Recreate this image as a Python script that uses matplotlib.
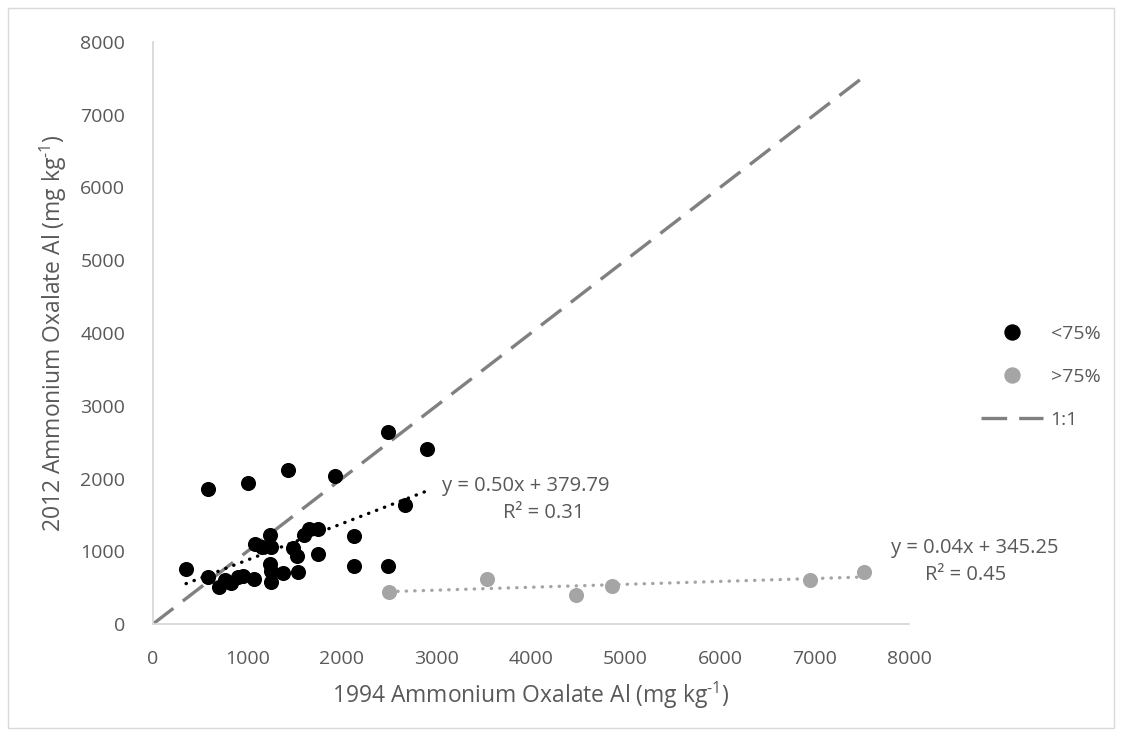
import matplotlib
matplotlib.use("Agg")
import matplotlib.pyplot as plt
from matplotlib.lines import Line2D
from matplotlib.patches import Rectangle
import numpy as np

plt.rcParams['font.family'] = ['Open Sans', 'DejaVu Sans']
plt.rcParams['mathtext.fontset'] = 'custom'
plt.rcParams['mathtext.rm'] = 'Open Sans'
plt.rcParams['mathtext.it'] = 'Open Sans'

# ---- data ----
low_x = [350, 580, 580, 700, 760, 830, 900, 950, 1010, 1070, 1080, 1150, 1240, 1250,
         1240, 1250, 1250, 1380, 1425, 1480, 1520, 1530, 1600, 1650, 1750, 1750, 1930,
         2130, 2130, 2490, 2490, 2670, 2900]
low_y = [760, 1860, 650, 510, 600, 560, 640, 660, 1940, 620, 1100, 1060, 1220, 1060,
         820, 730, 580, 700, 2110, 1050, 930, 720, 1230, 1310, 1310, 960, 2030,
         1210, 800, 2640, 800, 1630, 2400]
high_x = [2500, 3530, 4480, 4860, 6950, 7520]
high_y = [440, 620, 400, 520, 600, 720]

low_fit = (0.50, 379.79)     # slope, intercept
high_fit = (0.04, 345.25)
low_r2 = 0.31
high_r2 = 0.45

one_to_one = [0, 7530]

x_ticks = [0, 1000, 2000, 3000, 4000, 5000, 6000, 7000, 8000]
y_ticks = [0, 1000, 2000, 3000, 4000, 5000, 6000, 7000, 8000]

TXT = '#595959'

fig = plt.figure(figsize=(11.22, 7.36), dpi=100)
ax = fig.add_axes([153/1122, 1-624/736, (909-153)/1122, (624-42)/736])

# 1:1 line
ax.plot(one_to_one, one_to_one, color='#808080', lw=2.4, dashes=(7.7, 3.6),
        solid_capstyle='butt', dash_capstyle='butt', zorder=2)

# scatter
ax.scatter(low_x, low_y, s=118, color='black', zorder=3, linewidths=0)
ax.scatter(high_x, high_y, s=118, color='#A5A5A5', zorder=3, linewidths=0)

# trend lines
xl = np.array([min(low_x), max(low_x)])
ax.plot(xl, low_fit[0]*xl + low_fit[1], color='black', lw=2.4, linestyle=(0, (0.1, 2.45)),
        dash_capstyle='round', zorder=4)
xh = np.array([min(high_x), max(high_x)])
ax.plot(xh, high_fit[0]*xh + high_fit[1], color='#A5A5A5', lw=2.4, linestyle=(0, (0.1, 2.45)),
        dash_capstyle='round', zorder=2.5)

# equations
ax.text(3060, 1900, f"y = {low_fit[0]:.2f}x + {low_fit[1]:.2f}", color=TXT, fontsize=14.5,
        ha='left', va='center')
ax.text(4140, 1520, f"R² = {low_r2:.2f}", color=TXT, fontsize=14.5, ha='center', va='center')
ax.text(8700, 1045, f"y = {high_fit[0]:.2f}x + {high_fit[1]:.2f}", color=TXT, fontsize=14.5,
        ha='center', va='center', clip_on=False)
ax.text(8600, 670, f"R² = {high_r2:.2f}", color=TXT, fontsize=14.5, ha='center', va='center',
        clip_on=False)

ax.set_xlim(0, 8000)
ax.set_ylim(0, 8000)
ax.set_xticks(x_ticks)
ax.set_yticks(y_ticks)
ax.set_xticklabels([str(t) for t in x_ticks])
ax.set_yticklabels([str(t) for t in y_ticks])
ax.tick_params(length=0, labelsize=14, labelcolor=TXT)
ax.tick_params(axis='x', pad=19)
ax.tick_params(axis='y', pad=20)
for s in ['top', 'right']:
    ax.spines[s].set_visible(False)
for s in ['left', 'bottom']:
    ax.spines[s].set_color('#D9D9D9')
    ax.spines[s].set_linewidth(1.3)

ax.set_xlabel(r"1994 Ammonium Oxalate Al (mg kg$^{\text{-1}}$)", color=TXT, fontsize=16.5,
              labelpad=8)
ax.set_ylabel(r"2012 Ammonium Oxalate Al (mg kg$^{\text{-1}}$)", color=TXT, fontsize=16.5,
              labelpad=8)

handles = [
    Line2D([], [], marker='o', color='black', linestyle='none', markersize=10.8),
    Line2D([], [], marker='o', color='#A5A5A5', linestyle='none', markersize=10.8),
    Line2D([], [], color='#808080', lw=2.4, dashes=(7.7, 3.6)),
]
leg = fig.legend(handles, ['<75%', '>75%', '1:1'], loc='center left',
                 bbox_to_anchor=(963/1122, 1-377/736), frameon=False, fontsize=14,
                 labelcolor=TXT, labelspacing=1.3, handlelength=3.2, handletextpad=0.4)

fig.patches.append(Rectangle((8/1122, 8/736), 1-16/1122, 1-16/736, transform=fig.transFigure,
                             fill=False, edgecolor='#D9D9D9', lw=1))

fig.savefig('out.png', dpi=100)
